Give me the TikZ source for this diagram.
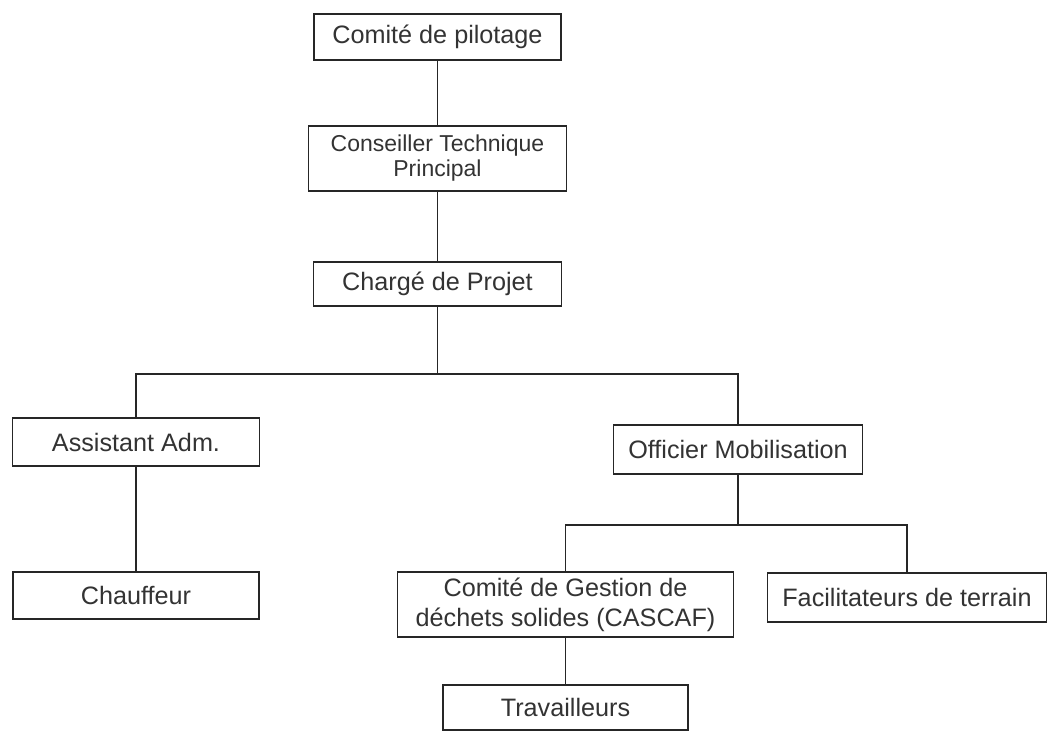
\documentclass[tikz,border=0pt]{standalone}
\usepackage{fontspec}
\setmainfont{Liberation Sans}
\usetikzlibrary{positioning}

\begin{document}
\begin{tikzpicture}[
    node distance=33pt and 28pt, % Vertical and Horizontal spacing
    line width=0.8pt,
    post/.style={
        rectangle, draw=black!85, fill=white,
        align=center, inner sep=0pt, outer sep=0pt,
        minimum width=123.5pt, minimum height=23pt,
        text=black!80, font=\fontsize{12.6}{15}\selectfont
    },
    % two-line boxes
    tall/.style={post, minimum height=32.5pt},
    link/.style={draw=black!85, line width=0.8pt}
]
    \useasboundingbox (0,0) rectangle (525.5pt,-365.5pt);

    % --- LEVEL 1: Steering and direction ---
    \node[post] (Pilot) at (218.75pt,-18.5pt) {Comité de pilotage};
    \node[tall, minimum width=129pt, font=\fontsize{11.5}{12.5}\selectfont] (CTP) [below=33pt of Pilot] {Conseiller Technique\\Principal};
    \node[post, minimum width=124pt, minimum height=22pt] (Charge) [below=35.5pt of CTP] {Chargé de Projet};

    % --- LEVEL 2: Staff under the project officer ---
    \node[post, minimum height=24pt] (Assist) [below left=56pt and 27pt of Charge] {Assistant Adm.};
    \node[post, minimum width=124.5pt, minimum height=24.5pt] (Officer) [below right=59.5pt and 26pt of Charge] {Officier Mobilisation};

    % --- LEVEL 3: Field level ---
    \node[post, minimum width=123pt, minimum height=23.5pt] (Driver) [below=53pt of Assist] {Chauffeur};
    \node[tall, minimum width=168pt] (CGD) [below left=49pt and -60pt of Officer] {Comité de Gestion de\\déchets solides (CASCAF)};
    \node[post, minimum width=139.5pt, minimum height=24.5pt] (Facil) [below right=49.5pt and -47.5pt of Officer] {Facilitateurs de terrain};
    \node[post, minimum width=122.5pt, minimum height=22.5pt] (Workers) [below=24pt of CGD] {Travailleurs};

    % bus points for the branching lines
    \coordinate[below=34pt of Charge] (BusTop);
    \coordinate[below=25.5pt of Officer] (BusMob);

    % --- EDGES ---
    \draw[link] (Pilot) -- (CTP);
    \draw[link] (CTP) -- (Charge);
    \draw[link] (Charge) -- (BusTop);
    \draw[link] (BusTop) -| (Assist);
    \draw[link] (BusTop) -| (Officer);
    \draw[link] (Assist) -- (Driver);

    \draw[link] (Officer) -- (BusMob);
    \draw[link] (BusMob) -| (CGD);
    \draw[link] (BusMob) -| (Facil);
    \draw[link] (CGD) -- (Workers);

\end{tikzpicture}
\end{document}
